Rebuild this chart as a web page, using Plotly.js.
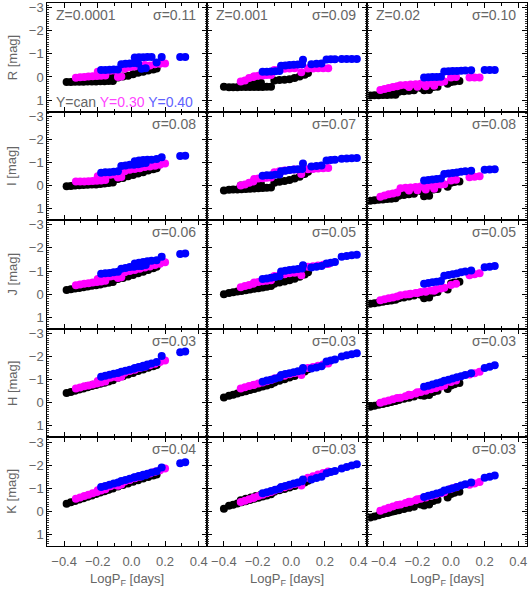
<!DOCTYPE html>
<html>
<head>
<meta charset="utf-8">
<script src="https://cdn.plot.ly/plotly-3.0.1.min.js"></script>
<style>
  body { margin: 0; background: #fff; }
  #plot { width: 531px; height: 601px; }
</style>
</head>
<body>
<div id="plot"></div>
<script>
var bands = ['R', 'I', 'J', 'H', 'K'];
var metals = ['Z=0.0001', 'Z=0.001', 'Z=0.02'];
var sigmas = [
    ['0.11', '0.09', '0.10'],
    ['0.08', '0.07', '0.08'],
    ['0.06', '0.05', '0.05'],
    ['0.03', '0.03', '0.03'],
    ['0.04', '0.03', '0.03']
];
var xTicks = [-0.4, -0.2, 0.0, 0.2, 0.4];
var yTicks = [-3, -2, -1, 0, 1];

// log P_F of the models, one list per metallicity column (same in every band)
var xCan = [
    [-0.385,-0.36,-0.335,-0.31,-0.285,-0.26,-0.235,-0.21,-0.185,-0.16,-0.135,-0.11, -0.26,-0.23,-0.2,-0.17,-0.14,-0.11, -0.08,-0.05,-0.02,0.01,0.04,0.07,0.10,0.13,0.15],
    [-0.40, -0.37,-0.345,-0.32,-0.295,-0.27,-0.245,-0.22,-0.195,-0.17,-0.145,-0.12, -0.3,-0.27,-0.24,-0.21,-0.18, -0.1,-0.07,-0.04,-0.01,0.02,0.05,0.08,0.1],
    [-0.48,-0.455,-0.43,-0.405,-0.38,-0.355,-0.33, -0.37,-0.34,-0.31,-0.28,-0.25,-0.22, -0.18,-0.155,-0.13,-0.105,-0.08, -0.16,-0.13, 0.0,0.02,0.05, -0.02]
];
var xY30 = [
    [-0.33,-0.305,-0.28,-0.255,-0.23,-0.205,-0.18,-0.155, -0.2,-0.175,-0.15,-0.125,-0.1, -0.08,-0.06, -0.04,-0.01,0.02,0.05,0.08,0.11,0.14,0.17,0.20],
    [-0.3,-0.275,-0.25,-0.225, -0.22,-0.195,-0.17,-0.145,-0.12, -0.1,-0.07,-0.04,-0.01,0.02, 0.06, 0.1,0.13,0.16,0.19,0.22],
    [-0.42,-0.395,-0.37,-0.345,-0.32, -0.3,-0.27,-0.24,-0.21,-0.18,-0.15,-0.12,-0.09,-0.06,-0.04, -0.25,-0.2,-0.15,-0.1, 0.0,0.03, 0.11,0.14,0.17]
];
var xY40 = [
    [-0.18,-0.155,-0.13,-0.105,-0.08, -0.06,-0.035,-0.01,0.015,0.04, 0.02,0.045,0.07,0.095,0.12,0.15, 0.06,0.085, 0.18, 0.29,0.32],
    [-0.17,-0.145,-0.12,-0.095,-0.07, -0.06,-0.035,-0.01,0.015,0.04,0.065, 0.07, 0.12,0.15,0.18, 0.21,0.235,0.26, 0.3,0.33,0.36,0.39],
    [-0.16,-0.135,-0.11,-0.085,-0.06, -0.04,-0.015,0.01,0.035, 0.06,0.085, 0.12, 0.2,0.23,0.26]
];

// magnitudes, per band: [Z=0.0001, Z=0.001, Z=0.02]
var R_can = [
    [0.22,0.22,0.21,0.21,0.21,0.20,0.20,0.20,0.19,0.19,0.18,0.18, 0.08,0.06,0.05,0.03,0.02,0.0, 0.02,-0.02,-0.05,-0.12,-0.18,-0.22,-0.28,-0.32,-0.36],
    [0.42, 0.45,0.45,0.45,0.44,0.44,0.44,0.43,0.43,0.43,0.42,0.42, 0.30,0.28,0.27,0.26,0.25, 0.15,0.13,0.12,0.10,0.05,-0.02,-0.10,-0.17],
    [0.80,0.79,0.79,0.78,0.78,0.77,0.77, 0.68,0.66,0.64,0.62,0.60,0.58, 0.48,0.46,0.45,0.44,0.42, 0.58,0.57, 0.22,0.20,0.18, 0.30]
];
var R_y30 = [
    [0.03,0.01,0.0,-0.02,-0.03,-0.04,-0.05,-0.06, -0.22,-0.25,-0.26,-0.27,-0.28, 0.0,-0.02, -0.35,-0.42,-0.45,-0.50,-0.52,-0.50,-0.55,-0.57,-0.58],
    [0.20,0.15,0.05,0.0, -0.03,-0.05,-0.06,-0.08,-0.08, -0.30,-0.33,-0.35,-0.37,-0.38, -0.20, -0.36,-0.37,-0.38,-0.38,-0.38],
    [0.56,0.52,0.48,0.44,0.40, 0.36,0.35,0.33,0.32,0.30,0.28,0.26,0.24,0.22,0.20, 0.44,0.42,0.40,0.38, 0.02,0.0, 0.02,0.02,0.02]
];
var R_y40 = [
    [-0.30,-0.30,-0.31,-0.32,-0.32, -0.55,-0.57,-0.58,-0.60,-0.58, -0.84,-0.85,-0.85,-0.86,-0.86,-0.62, -0.35,-0.38, -0.86, -0.86,-0.86],
    [-0.22,-0.23,-0.24,-0.25,-0.26, -0.48,-0.50,-0.52,-0.53,-0.54,-0.55, -0.74, -0.55,-0.57,-0.58, -0.76,-0.77,-0.77, -0.78,-0.78,-0.78,-0.78],
    [0.02,0.01,0.0,0.0,-0.01, -0.24,-0.25,-0.26,-0.26, -0.27,-0.28, -0.29, -0.30,-0.30,-0.30]
];

var I_can = [
    [0.03,0.02,0.0,-0.01,-0.02,-0.03,-0.04,-0.05,-0.07,-0.09,-0.11,-0.13, -0.12,-0.15,-0.18,-0.20,-0.22,-0.25, -0.28,-0.33,-0.40,-0.46,-0.52,-0.58,-0.65,-0.71,-0.75],
    [0.22, 0.18,0.17,0.17,0.16,0.15,0.14,0.13,0.12,0.11,0.10,0.09, 0.0,-0.02,-0.04,-0.05,-0.07, -0.12,-0.16,-0.20,-0.24,-0.30,-0.38,-0.50,-0.60],
    [0.66,0.64,0.62,0.60,0.58,0.57,0.55, 0.50,0.47,0.44,0.41,0.38,0.35, 0.24,0.21,0.19,0.17,0.15, 0.46,0.44, -0.12,-0.15,-0.18, 0.05]
];
var I_y30 = [
    [-0.17,-0.17,-0.18,-0.19,-0.20,-0.21,-0.22,-0.24, -0.40,-0.43,-0.45,-0.47,-0.48, -0.35,-0.37, -0.62,-0.68,-0.72,-0.75,-0.80,-0.82,-0.86,-0.90,-0.95],
    [0.0,-0.05,-0.12,-0.18, -0.28,-0.30,-0.32,-0.34,-0.35, -0.58,-0.62,-0.65,-0.67,-0.69, -0.50, -0.70,-0.72,-0.74,-0.75,-0.76],
    [0.48,0.43,0.38,0.34,0.30, 0.12,0.10,0.08,0.06,0.04,0.02,0.0,-0.02,-0.04,-0.06, 0.22,0.20,0.17,0.14, -0.22,-0.25, -0.36,-0.38,-0.40]
];
var I_y40 = [
    [-0.55,-0.57,-0.58,-0.60,-0.62, -0.85,-0.87,-0.90,-0.90,-0.92, -1.05,-1.08,-1.10,-1.12,-1.12,-1.15, -0.95,-0.98, -1.22, -1.28,-1.29],
    [-0.42,-0.44,-0.45,-0.47,-0.48, -0.62,-0.64,-0.67,-0.69,-0.70,-0.72, -0.95, -0.82,-0.85,-0.87, -1.08,-1.10,-1.12, -1.16,-1.17,-1.18,-1.19],
    [-0.22,-0.24,-0.26,-0.28,-0.30, -0.50,-0.52,-0.54,-0.56, -0.60,-0.62, -0.64, -0.68,-0.69,-0.70]
];

var J_can = [
    [-0.18,-0.21,-0.24,-0.27,-0.30,-0.33,-0.36,-0.39,-0.42,-0.46,-0.49,-0.53, -0.40,-0.44,-0.48,-0.52,-0.56,-0.60, -0.65,-0.70,-0.76,-0.83,-0.90,-0.97,-1.05,-1.12,-1.18],
    [0.0, -0.05,-0.08,-0.11,-0.14,-0.17,-0.20,-0.23,-0.26,-0.29,-0.32,-0.35, -0.20,-0.24,-0.28,-0.32,-0.36, -0.45,-0.50,-0.55,-0.60,-0.67,-0.75,-0.85,-0.95],
    [0.42,0.39,0.36,0.33,0.30,0.27,0.24, 0.26,0.22,0.18,0.14,0.10,0.06, 0.03,0.0,-0.03,-0.06,-0.09, 0.18,0.15, -0.46,-0.50,-0.54, -0.20]
];
var J_y30 = [
    [-0.39,-0.42,-0.45,-0.47,-0.50,-0.53,-0.55,-0.58, -0.66,-0.70,-0.73,-0.76,-0.78, -0.70,-0.73, -0.95,-1.0,-1.05,-1.10,-1.15,-1.20,-1.26,-1.31,-1.38],
    [-0.30,-0.35,-0.40,-0.45, -0.50,-0.53,-0.56,-0.58,-0.60, -0.78,-0.82,-0.86,-0.90,-0.93, -0.82, -1.18,-1.21,-1.24,-1.27,-1.30],
    [0.26,0.22,0.18,0.14,0.10, 0.05,0.02,-0.02,-0.05,-0.09,-0.12,-0.16,-0.20,-0.24,-0.28, 0.0,-0.05,-0.10,-0.15, -0.40,-0.45, -0.82,-0.86,-0.90]
];
var J_y40 = [
    [-0.88,-0.90,-0.92,-0.95,-0.97, -1.10,-1.13,-1.17,-1.19,-1.22, -1.33,-1.36,-1.39,-1.42,-1.44,-1.47, -1.22,-1.26, -1.62, -1.74,-1.76],
    [-0.65,-0.68,-0.71,-0.74,-0.77, -0.98,-1.01,-1.04,-1.07,-1.09,-1.11, -1.25, -1.15,-1.19,-1.22, -1.33,-1.36,-1.39, -1.62,-1.65,-1.68,-1.71],
    [-0.45,-0.48,-0.51,-0.54,-0.57, -0.80,-0.83,-0.86,-0.89, -0.95,-0.98, -1.02, -1.16,-1.19,-1.22]
];

var H_can = [
    [-0.42,-0.47,-0.52,-0.57,-0.62,-0.67,-0.72,-0.77,-0.82,-0.87,-0.92,-0.97, -0.72,-0.78,-0.84,-0.90,-0.96,-1.02, -1.08,-1.15,-1.22,-1.29,-1.37,-1.44,-1.51,-1.58,-1.63],
    [-0.23, -0.30,-0.35,-0.40,-0.45,-0.50,-0.55,-0.60,-0.65,-0.70,-0.75,-0.80, -0.50,-0.56,-0.62,-0.68,-0.74, -0.88,-0.95,-1.02,-1.09,-1.16,-1.25,-1.35,-1.45],
    [0.17,0.13,0.09,0.05,0.01,-0.03,-0.07, -0.02,-0.07,-0.12,-0.17,-0.22,-0.27, -0.32,-0.37,-0.42,-0.47,-0.52, -0.30,-0.34, -0.75,-0.80,-0.85, -0.60]
];
var H_y30 = [
    [-0.62,-0.66,-0.71,-0.75,-0.79,-0.83,-0.88,-0.92, -0.94,-0.99,-1.03,-1.08,-1.12, -1.08,-1.12, -1.30,-1.37,-1.43,-1.50,-1.56,-1.62,-1.69,-1.76,-1.83],
    [-0.62,-0.67,-0.72,-0.77, -0.78,-0.83,-0.88,-0.93,-0.98, -1.05,-1.11,-1.17,-1.23,-1.29, -1.20, -1.50,-1.55,-1.60,-1.65,-1.70],
    [0.0,-0.05,-0.10,-0.15,-0.20, -0.22,-0.28,-0.34,-0.40,-0.46,-0.52,-0.58,-0.64,-0.70,-0.75, -0.35,-0.45,-0.55,-0.65, -0.90,-0.96, -1.22,-1.28,-1.34]
];
var H_y40 = [
    [-1.13,-1.17,-1.21,-1.25,-1.29, -1.34,-1.38,-1.43,-1.47,-1.52, -1.50,-1.55,-1.60,-1.65,-1.70,-1.76, -1.52,-1.57, -2.02, -2.18,-2.22],
    [-0.91,-0.96,-1.00,-1.05,-1.09, -1.20,-1.24,-1.28,-1.32,-1.36,-1.40, -1.50, -1.48,-1.53,-1.58, -1.78,-1.83,-1.87, -2.00,-2.05,-2.10,-2.14],
    [-0.69,-0.74,-0.79,-0.84,-0.89, -0.95,-1.00,-1.05,-1.10, -1.15,-1.20, -1.28, -1.50,-1.56,-1.62]
];

var K_can = [
    [-0.33,-0.39,-0.45,-0.51,-0.57,-0.63,-0.69,-0.75,-0.81,-0.87,-0.93,-0.99, -0.67,-0.74,-0.81,-0.88,-0.95,-1.02, -1.07,-1.14,-1.21,-1.28,-1.35,-1.42,-1.49,-1.55,-1.59],
    [-0.11, -0.24,-0.29,-0.34,-0.39,-0.44,-0.49,-0.54,-0.59,-0.64,-0.69,-0.74, -0.48,-0.54,-0.60,-0.66,-0.72, -0.85,-0.91,-0.97,-1.03,-1.10,-1.17,-1.25,-1.32],
    [0.27,0.22,0.17,0.12,0.07,0.02,-0.03, 0.05,0.0,-0.05,-0.10,-0.15,-0.20, -0.30,-0.35,-0.40,-0.45,-0.50, -0.25,-0.30, -0.75,-0.80,-0.85, -0.60]
];
var K_y30 = [
    [-0.54,-0.60,-0.66,-0.72,-0.78,-0.84,-0.90,-0.96, -0.91,-0.97,-1.03,-1.09,-1.15, -1.11,-1.16, -1.29,-1.36,-1.43,-1.50,-1.57,-1.64,-1.71,-1.78,-1.85],
    [-0.40,-0.46,-0.52,-0.58, -0.60,-0.66,-0.72,-0.78,-0.84, -0.90,-0.97,-1.04,-1.11,-1.18, -1.12, -1.45,-1.52,-1.59,-1.66,-1.72],
    [-0.03,-0.09,-0.15,-0.21,-0.27, -0.30,-0.36,-0.42,-0.48,-0.54,-0.60,-0.66,-0.72,-0.78,-0.83, -0.42,-0.52,-0.62,-0.72, -0.98,-1.04, -1.15,-1.21,-1.27]
];
var K_y40 = [
    [-1.05,-1.10,-1.15,-1.20,-1.25, -1.31,-1.36,-1.41,-1.46,-1.51, -1.47,-1.53,-1.58,-1.63,-1.68,-1.74, -1.51,-1.56, -1.90, -2.08,-2.12],
    [-0.78,-0.83,-0.88,-0.93,-0.98, -1.05,-1.10,-1.15,-1.20,-1.25,-1.30, -1.38, -1.38,-1.44,-1.50, -1.65,-1.70,-1.75, -1.85,-1.92,-1.98,-2.04],
    [-0.62,-0.67,-0.72,-0.77,-0.82, -0.90,-0.95,-1.00,-1.05, -1.12,-1.17, -1.25, -1.45,-1.50,-1.55]
];

var mags = {
    R: [R_can, R_y30, R_y40],
    I: [I_can, I_y30, I_y40],
    J: [J_can, J_y30, J_y40],
    H: [H_can, H_y30, H_y40],
    K: [K_can, K_y30, K_y40]
};
var xs = [xCan, xY30, xY40];
var colors = ['#000000', '#ff00ff', '#0000ff'];

var W = 531, H = 601;
var left = 47.3, top0 = 3, colW = 159.8, rowH = 108.6;
var textGray = '#666666';
var font = 'Liberation Sans, Arial, sans-serif';

var traces = [];
var layout = {
    width: W, height: H,
    margin: {l: 0, r: 0, t: 0, b: 0},
    paper_bgcolor: '#fff',
    plot_bgcolor: '#fff',
    showlegend: false,
    font: {family: font, color: textGray, size: 13},
    annotations: []
};

bands.forEach(function(b, r) {
    for (var c = 0; c < 3; c++) {
        var n = r * 3 + c + 1;
        var sfx = n == 1 ? '' : String(n);
        for (var s = 0; s < 3; s++) {
            traces.push({
                type: 'scatter',
                mode: 'markers',
                x: xs[s][c],
                y: mags[b][s][c],
                xaxis: 'x' + sfx,
                yaxis: 'y' + sfx,
                marker: {color: colors[s], size: 8, line: {width: 0}},
                hoverinfo: 'skip'
            });
        }
        var x0 = (left + c * colW) / W, x1 = (left + (c + 1) * colW) / W;
        var y1 = 1 - (top0 + r * rowH) / H, y0 = 1 - (top0 + (r + 1) * rowH) / H;
        layout['xaxis' + sfx] = {
            domain: [x0, x1],
            anchor: 'y' + sfx,
            range: [-0.5, 0.45],
            tickmode: 'array',
            tickvals: xTicks,
            ticktext: xTicks.map(function(v) { return (v < 0 ? '\u2212' : '') + Math.abs(v).toFixed(1); }),
            showticklabels: r == 4,
            ticklabelstandoff: 3,
            tickfont: {family: font, size: 13, color: textGray},
            ticks: 'inside', ticklen: 5, tickcolor: '#000', tickwidth: 1,
            minor: {dtick: 0.1, tick0: 0, ticks: 'inside', ticklen: 3, tickcolor: '#000'},
            showline: true, linecolor: '#000', linewidth: 1, mirror: 'ticks',
            showgrid: false, zeroline: false
        };
        layout['yaxis' + sfx] = {
            domain: [y0, y1],
            anchor: 'x' + sfx,
            range: [1.5, -3.2],
            tickmode: 'array',
            tickvals: yTicks,
            ticktext: yTicks.map(function(v) { return (v < 0 ? '\u2212' : '') + Math.abs(v); }),
            showticklabels: c == 0,
            tickfont: {family: font, size: 13, color: textGray},
            ticks: 'inside', ticklen: 5, tickcolor: '#000', tickwidth: 1,
            minor: {dtick: 0.1, tick0: 0, ticks: 'inside', ticklen: 2, tickcolor: '#333'},
            showline: true, linecolor: '#000', linewidth: 1, mirror: 'ticks',
            showgrid: false, zeroline: false
        };
        layout.annotations.push({
            xref: 'x' + sfx + ' domain', yref: 'y' + sfx + ' domain',
            x: 0.945, y: 0.89, xanchor: 'right', yanchor: 'middle',
            text: '\u03c3=' + sigmas[r][c], showarrow: false,
            font: {family: font, size: 14, color: textGray}
        });
        if (r == 0) {
            layout.annotations.push({
                xref: 'x' + sfx + ' domain', yref: 'y' + sfx + ' domain',
                x: 0.045, y: 0.89, xanchor: 'left', yanchor: 'middle',
                text: metals[c], showarrow: false,
                font: {family: font, size: 14, color: textGray}
            });
        }
        if (r == 4) {
            layout.annotations.push({
                xref: 'paper', yref: 'paper',
                x: (left + (c + 0.5) * colW) / W, y: 1 - 579 / H,
                xanchor: 'center', yanchor: 'middle',
                text: 'LogP<sub>F</sub> [days]', showarrow: false,
                font: {family: font, size: 13, color: textGray}
            });
        }
    }
    layout.annotations.push({
        xref: 'paper', yref: 'paper',
        x: 12 / W, y: 1 - (top0 + (r + 0.5) * rowH) / H,
        xanchor: 'center', yanchor: 'middle', textangle: -90,
        text: b + ' [mag]', showarrow: false,
        font: {family: font, size: 13, color: textGray}
    });
});

// legend line in the first panel
layout.annotations.push({
    xref: 'x domain', yref: 'y domain',
    x: 0.045, y: 0.09, xanchor: 'left', yanchor: 'middle',
    text: 'Y=can <span style="color:#ff44ff">Y=0.30</span> <span style="color:#6262ff">Y=0.40</span>',
    showarrow: false,
    font: {family: font, size: 14, color: textGray}
});

Plotly.newPlot('plot', traces, layout, {displayModeBar: false, staticPlot: true});
</script>
</body>
</html>
